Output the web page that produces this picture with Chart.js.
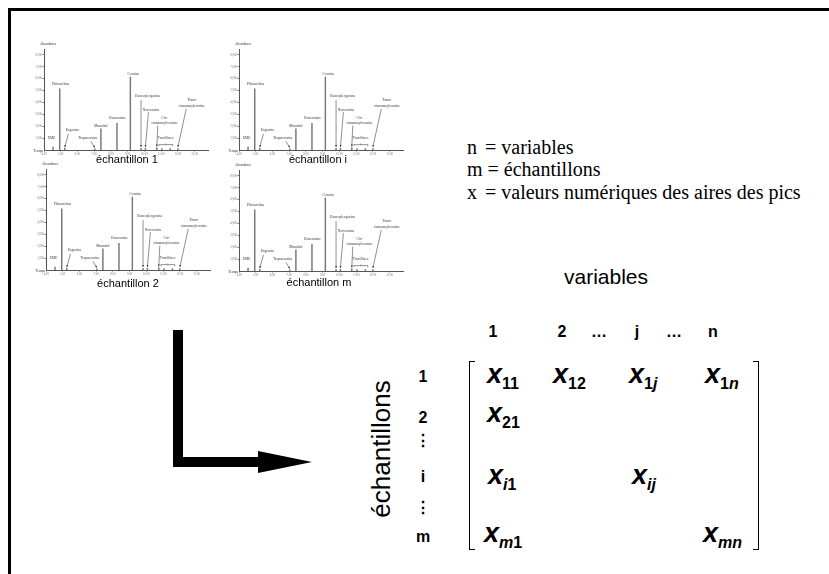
<!DOCTYPE html>
<html>
<head>
<meta charset="utf-8">
<script src="https://cdn.jsdelivr.net/npm/chart.js@4.4.1/dist/chart.umd.min.js"></script>
<style>
  html, body { margin: 0; padding: 0; background: #fff; }
  #page { position: relative; width: 829px; height: 574px; overflow: hidden; background: #fff; font-family: "Liberation Sans", Arial, sans-serif; color: #000; }
  .abs { position: absolute; }
  .frame-top { left: 8px; top: 8px; width: 821px; height: 3px; background: #000; }
  .frame-left { left: 8px; top: 8px; width: 3px; height: 566px; background: #000; }
  canvas.chromato { position: absolute; }
  .cap { font-size: 11px; white-space: nowrap; transform: translate(-50%, -50%); line-height: 1; }
  .legend { font-family: "Liberation Serif", "Times New Roman", serif; font-size: 20px; line-height: 1; white-space: nowrap; }
  .legend .v { display: inline-block; width: 18px; }
  .ctr { transform: translate(-50%, -50%); line-height: 1; white-space: nowrap; }
  .hdr { font-weight: bold; font-size: 16px; }
  .entry { font-weight: bold; line-height: 26px; white-space: nowrap; }
  .entry .x { font-style: italic; font-size: 27px; }
  .entry sub { font-size: 16px; vertical-align: -6px; font-style: normal; }
  .entry sub i { font-style: italic; }
  .br { border: 1.5px solid #000; width: 5px; }
  .br.l { border-right: none; }
  .br.r { border-left: none; }
  .bar { background: #000; }
</style>
</head>
<body>
<div id="page">
  <div class="abs frame-top"></div>
  <div class="abs frame-left"></div>

  <canvas class="chromato" id="c0" width="182" height="116"></canvas>
  <canvas class="chromato" id="c1" width="182" height="116"></canvas>
  <canvas class="chromato" id="c2" width="182" height="116"></canvas>
  <canvas class="chromato" id="c3" width="182" height="116"></canvas>

  <div class="abs legend" style="left:467px; top:137px;"><span class="v">n</span>= variables</div>
  <div class="abs legend" style="left:467px; top:159px;">m = échantillons</div>
  <div class="abs legend" style="left:467px; top:182px;"><span class="v">x</span>= valeurs numériques des aires des pics</div>

  <div class="abs ctr" style="left:606px; top:276px; font-size:21px;">variables</div>

  <div class="abs ctr hdr" style="left:493px; top:332px;">1</div>
  <div class="abs ctr hdr" style="left:562px; top:332px;">2</div>
  <div class="abs ctr hdr" style="left:599px; top:332px;">…</div>
  <div class="abs ctr hdr" style="left:637px; top:332px;">j</div>
  <div class="abs ctr hdr" style="left:674px; top:332px;">…</div>
  <div class="abs ctr hdr" style="left:713px; top:332px;">n</div>

  <div class="abs ctr hdr" style="left:423px; top:377px;">1</div>
  <div class="abs ctr hdr" style="left:423px; top:418px;">2</div>
  <div class="abs ctr hdr" style="left:423px; top:441px;">⋮</div>
  <div class="abs ctr hdr" style="left:423px; top:477px;">i</div>
  <div class="abs ctr hdr" style="left:423px; top:508px;">⋮</div>
  <div class="abs ctr hdr" style="left:423px; top:537px;">m</div>

  <div class="abs ctr" style="left:381px; top:449px; font-size:26px; transform:translate(-50%,-50%) rotate(-90deg);">échantillons</div>

  <div class="abs br l" style="left:469px; top:361px; height:187px;"></div>
  <div class="abs br r" style="left:753px; top:361px; height:187px;"></div>

  <div class="abs entry" style="left:487px; top:361px;"><span class="x">x</span><sub>11</sub></div>
  <div class="abs entry" style="left:553px; top:361px;"><span class="x">x</span><sub>12</sub></div>
  <div class="abs entry" style="left:629px; top:361px;"><span class="x">x</span><sub>1<i>j</i></sub></div>
  <div class="abs entry" style="left:705px; top:361px;"><span class="x">x</span><sub>1<i>n</i></sub></div>
  <div class="abs entry" style="left:487px; top:400px;"><span class="x">x</span><sub>21</sub></div>
  <div class="abs entry" style="left:488px; top:462px;"><span class="x">x</span><sub><i>i</i>1</sub></div>
  <div class="abs entry" style="left:632px; top:462px;"><span class="x">x</span><sub><i>ij</i></sub></div>
  <div class="abs entry" style="left:484px; top:520px;"><span class="x">x</span><sub><i>m</i>1</sub></div>
  <div class="abs entry" style="left:703px; top:520px;"><span class="x">x</span><sub><i>mn</i></sub></div>

  <div class="abs bar" style="left:173px; top:330px; width:10px; height:137px;"></div>
  <div class="abs bar" style="left:173px; top:457px; width:86px; height:10px;"></div>
  <div class="abs" style="left:258px; top:451px; width:0; height:0; border-top:11px solid transparent; border-bottom:11px solid transparent; border-left:54px solid #000;"></div>
</div>

<script>
// chromatogram: retention time (min) and abundance of each peak
const peakTimes = [4.54, 4.94, 5.24, 7.04, 7.40, 8.36, 9.16, 9.80, 10.06, 10.74, 11.05, 11.55, 12.00];
const peakHeights = [250, 5150, 150, 100, 1780, 2250, 6140, 150, 150, 200, 120, 120, 120];

const timeTicks = [4, 5, 6, 7, 8, 9, 10, 11, 12, 13];
const abundanceTicks = [1000, 2000, 3000, 4000, 5000, 6000, 7000, 8000];

const compounds = [
  "EME", "Phénacétine", "Ecgonine", "Tropacocaïne", "Mannitol", "Benzocaïne",
  "Cocaïne", "Benzoylecgonine", "Norcocaïne", "Cis-\ncinnamoylcocaïne",
  "Truxillines", "Trans-\ncinnamoylcocaïne",
];
const samples = ["échantillon 1", "échantillon i", "échantillon 2", "échantillon m"];

// where each compound name sits, and where its pointer starts (chart units)
const labelPlace = [
  [4.46, 985, null, null],
  [5.0, 5520, null, null],
  [5.7, 1690, [5.46, 1350], [5.24, 230]],
  [6.62, 985, [6.8, 730], [7.04, 200]],
  [7.4, 2000, null, null],
  [8.4, 2700, null, null],
  [9.34, 6370, null, null],
  [10.2, 4500, [9.8, 4200], [9.8, 250]],
  [10.4, 3400, [10.24, 3180], [10.06, 250]],
  [11.2, 2700, [10.8, 2050], [10.74, 300]],
  [11.26, 985, null, null],
  [12.84, 4170, [12.5, 3460], [12.0, 250]],
];
const braceSpan = [10.86, 11.7];

const panels = [
  { left: 30, top: 41, cap: [127, 159] },
  { left: 225, top: 41, cap: [318, 159] },
  { left: 32, top: 161, cap: [128, 283] },
  { left: 225, top: 162, cap: [319, 282] },
];

const annotate = {
  id: "annotate",
  afterDatasetsDraw(chart) {
    const { ctx, chartArea, scales: { x, y } } = chart;
    ctx.save();
    ctx.fillStyle = "#333";
    ctx.strokeStyle = "#444";
    ctx.lineWidth = 0.6;
    ctx.font = '3.6px "Liberation Serif"';
    ctx.textAlign = "center";
    ctx.textBaseline = "middle";
    compounds.forEach((name, i) => {
      const [t, a, from, to] = labelPlace[i];
      name.split("\n").forEach((line, k) => {
        ctx.fillText(line, x.getPixelForValue(t), y.getPixelForValue(a) + k * 5.5);
      });
      if (from) {
        const x0 = x.getPixelForValue(from[0]), y0 = y.getPixelForValue(from[1]);
        const x1 = x.getPixelForValue(to[0]), y1 = y.getPixelForValue(to[1]);
        ctx.beginPath();
        ctx.moveTo(x0, y0);
        ctx.lineTo(x1, y1);
        ctx.stroke();
        const ang = Math.atan2(y1 - y0, x1 - x0);
        ctx.beginPath();
        ctx.moveTo(x1, y1);
        ctx.lineTo(x1 - 2.2 * Math.cos(ang - 0.45), y1 - 2.2 * Math.sin(ang - 0.45));
        ctx.lineTo(x1 - 2.2 * Math.cos(ang + 0.45), y1 - 2.2 * Math.sin(ang + 0.45));
        ctx.closePath();
        ctx.fill();
      }
    });
    // brace under the truxillines
    const bx0 = x.getPixelForValue(braceSpan[0]), bx1 = x.getPixelForValue(braceSpan[1]);
    const by = y.getPixelForValue(450);
    ctx.beginPath();
    ctx.moveTo(bx0, by + 1.5);
    ctx.lineTo(bx0, by);
    ctx.lineTo(bx1, by);
    ctx.lineTo(bx1, by + 1.5);
    ctx.moveTo((bx0 + bx1) / 2, by);
    ctx.lineTo((bx0 + bx1) / 2, by - 1.2);
    ctx.stroke();
    ctx.textAlign = "left";
    ctx.fillText("Abondance", chartArea.left - 4, chartArea.top - 5);
    ctx.textAlign = "right";
    ctx.fillText("Temps", chartArea.left - 1, chartArea.bottom + 1);
    ctx.restore();
  },
};

function drawChromatogram(canvas) {
  return new Chart(canvas, {
    type: "bar",
    data: {
      datasets: [
        {
          data: peakTimes.map((t, i) => ({ x: t, y: peakHeights[i] })),
          backgroundColor: "#777",
          barThickness: 0.8,
        },
      ],
    },
    options: {
      responsive: false,
      animation: false,
      events: [],
      layout: { padding: { top: 8, right: 4, left: 0, bottom: 0 } },
      plugins: { legend: { display: false }, tooltip: { enabled: false } },
      scales: {
        x: {
          type: "linear",
          offset: false,
          min: 4,
          max: 13.8,
          afterBuildTicks: (s) => { s.ticks = timeTicks.map((v) => ({ value: v })); },
          afterFit: (s) => { s.height = 7; },
          grid: { display: true, drawOnChartArea: false, tickLength: 1.5, color: "#777", offset: false },
          border: { color: "#555", width: 1 },
          ticks: {
            font: { size: 3, family: "Liberation Serif" },
            color: "#777",
            padding: 0.5,
            maxRotation: 0,
            autoSkip: false,
            callback: (v) => Number(v).toFixed(2),
          },
        },
        y: {
          min: 0,
          max: 8500,
          afterBuildTicks: (s) => { s.ticks = abundanceTicks.map((v) => ({ value: v })); },
          afterFit: (s) => { s.width = 14; },
          grid: { display: true, drawOnChartArea: false, tickLength: 1.5, color: "#777" },
          border: { color: "#555", width: 1 },
          ticks: {
            font: { size: 3, family: "Liberation Serif" },
            color: "#777",
            padding: 0.5,
            autoSkip: false,
          },
        },
      },
    },
    plugins: [annotate],
  });
}

const page = document.querySelector("#page");
panels.forEach((p, i) => {
  const canvas = document.querySelector(`#c${i}`);
  canvas.style.left = p.left + "px";
  canvas.style.top = p.top + "px";
  drawChromatogram(canvas);
  const cap = document.createElement("div");
  cap.className = "abs cap";
  cap.style.left = p.cap[0] + "px";
  cap.style.top = p.cap[1] + "px";
  cap.textContent = samples[i];
  page.appendChild(cap);
});
</script>
</body>
</html>
